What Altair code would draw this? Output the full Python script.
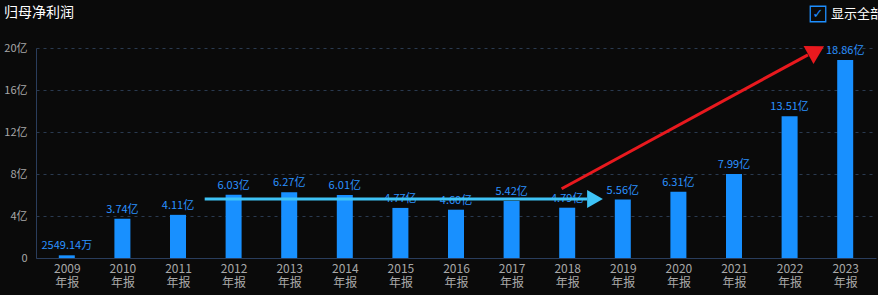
import altair as alt
import pandas as pd

years = [2009, 2010, 2011, 2012, 2013, 2014, 2015, 2016, 2017, 2018, 2019, 2020, 2021, 2022, 2023]
values = [0.254914, 3.74, 4.11, 6.03, 6.27, 6.01, 4.77, 4.60, 5.42, 4.79, 5.56, 6.31, 7.99, 13.51, 18.86]
labels = ["2549.14万", "3.74亿", "4.11亿", "6.03亿", "6.27亿", "6.01亿", "4.77亿", "4.60亿",
          "5.42亿", "4.79亿", "5.56亿", "6.31亿", "7.99亿", "13.51亿", "18.86亿"]
y_ticks = [0, 4, 8, 12, 16, 20]

# annotation arrows (data coordinates: year, 亿)
cyan_start = (2011.48, 5.62)
cyan_end = (2018.36, 5.62)
cyan_head = (2018.5, 5.62)
red_start = (2017.9, 6.6)
red_end = (2022.33, 19.35)
red_head = (2022.48, 19.75)

FONT = "Noto Sans CJK SC"
BG = "#0a0a0a"

df = pd.DataFrame({"year": years, "value": values, "label": labels})

xscale = alt.Scale(domain=[2008.446, 2023.554], nice=False, zero=False, padding=0)
yscale = alt.Scale(domain=[0, 20], nice=False, padding=0)

base = alt.Chart(df)

bars = base.mark_bar(color="#1890ff", size=16).encode(
    x=alt.X("year:Q", scale=xscale, title=None,
            axis=alt.Axis(values=years, format="d", labelExpr="[datum.label, '年报']",
                          grid=False, ticks=False, domainColor="#2a3d5c", labelColor="#a8a8a8",
                          labelFont=FONT, labelFontSize=12, labelPadding=5, labelLineHeight=14)),
    y=alt.Y("value:Q", scale=yscale, title=None,
            axis=alt.Axis(values=y_ticks, labelExpr="datum.value == 0 ? '0' : datum.value + '亿'",
                          grid=True, gridColor="#2a3a50", gridDash=[3, 4], ticks=False,
                          domainColor="#2a3d5c", labelColor="#a8a8a8", labelFont=FONT,
                          labelFontSize=11, labelPadding=9)),
)

text = base.mark_text(color="#2a92ff", font=FONT, fontSize=11, dy=-9).encode(
    x=alt.X("year:Q", scale=xscale),
    y=alt.Y("value:Q", scale=yscale),
    text="label:N",
)

arrows = pd.DataFrame({
    "x": [cyan_start[0], red_start[0]], "y": [cyan_start[1], red_start[1]],
    "x2": [cyan_end[0], red_end[0]], "y2": [cyan_end[1], red_end[1]],
    "c": ["cyan", "red"],
})
cmap = alt.Scale(domain=["cyan", "red"], range=["#3ec3f6", "#e8191e"])

lines = alt.Chart(arrows).mark_rule(strokeWidth=3).encode(
    x=alt.X("x:Q", scale=xscale), y=alt.Y("y:Q", scale=yscale),
    x2="x2:Q", y2="y2:Q",
    color=alt.Color("c:N", scale=cmap, legend=None),
)

heads = pd.DataFrame({
    "x": [cyan_head[0], red_head[0]],
    "y": [cyan_head[1], red_head[1]],
    "c": ["cyan", "red"],
    "a": [0, 331],
    "s": [330, 420],
})
head_marks = alt.Chart(heads).mark_point(shape="triangle-right", filled=True, opacity=1).encode(
    x=alt.X("x:Q", scale=xscale), y=alt.Y("y:Q", scale=yscale),
    color=alt.Color("c:N", scale=cmap, legend=None),
    angle=alt.Angle("a:Q", scale=None),
    size=alt.Size("s:Q", scale=None, legend=None),
)

title = alt.Chart(pd.DataFrame({"t": ["归母净利润"]})).mark_text(
    color="#ffffff", font=FONT, fontSize=14, align="left", baseline="middle"
).encode(x=alt.value(-32), y=alt.value(-35), text="t:N")

box = alt.Chart(pd.DataFrame({"t": [""]})).mark_point(
    shape="square", color="#1e8fff", strokeWidth=1.3, size=240, filled=False, opacity=1
).encode(x=alt.value(782), y=alt.value(-34))

check = alt.Chart(pd.DataFrame({"t": ["✓"]})).mark_text(
    color="#1e8fff", font="DejaVu Sans", fontSize=13, baseline="middle"
).encode(x=alt.value(782), y=alt.value(-34), text="t:N")

showall = alt.Chart(pd.DataFrame({"t": ["显示全部"]})).mark_text(
    color="#ffffff", font=FONT, fontSize=13, align="left", baseline="middle"
).encode(x=alt.value(795), y=alt.value(-34), text="t:N")

chart = alt.layer(bars, text, lines, head_marks, title, box, check, showall).properties(
    width=840, height=210, background=BG,
    padding={"left": 36, "top": 48, "right": 2, "bottom": 37},
    autosize=alt.AutoSizeParams(type="none"),
).configure_view(stroke=None).configure_axis(labelFont=FONT)

chart.save("out.html", embed_options={"renderer": "svg", "actions": False})
